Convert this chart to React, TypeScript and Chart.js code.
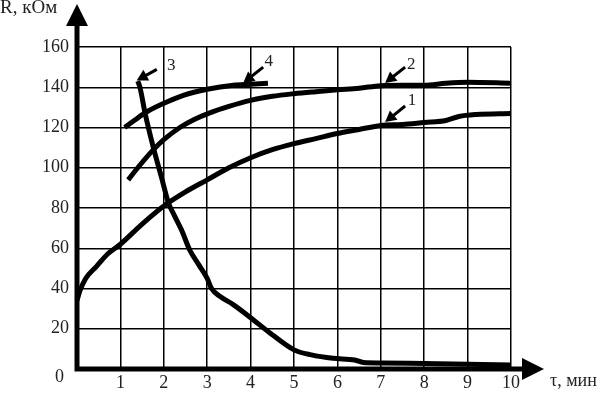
import React, { useEffect, useRef } from "react";
import { Chart, registerables } from "chart.js";

Chart.register(...registerables);

// Curve 1
const c1X = [0.0, 0.07, 0.2, 0.45, 0.7, 1.0, 1.5, 2.0, 2.5, 3.0, 3.5, 4.0, 4.5, 5.0, 5.5, 6.0, 6.5, 7.0, 7.5, 8.0, 8.5, 8.8, 9.2, 10.0];
const c1Y = [34, 39, 45, 51, 57, 62, 72, 81, 88, 94, 100, 105, 109, 112, 114.5, 117, 119, 121, 121.5, 122.5, 123.5, 125.5, 126.5, 127];
// Curve 2
const c2X = [1.18, 1.4, 1.76, 2.0, 2.37, 2.7, 3.06, 3.5, 4.0, 4.5, 5.0, 5.5, 6.0, 6.5, 7.0, 7.5, 8.0, 8.5, 9.0, 10.0];
const c2Y = [94, 100, 109, 114, 120, 124, 127.3, 130.5, 133.5, 135.5, 136.8, 137.8, 138.7, 139.5, 140.8, 141, 141, 142, 142.5, 142];
// Curve 3
const c3X = [1.4, 1.45, 1.57, 1.76, 1.95, 2.1, 2.25, 2.41, 2.6, 2.8, 3.0, 3.1, 3.3, 3.6, 4.06, 4.5, 5.0, 5.4, 5.9, 6.4, 6.6, 7.0, 8.0, 9.0, 10.0];
const c3Y = [143, 140, 127, 110, 95, 83, 76, 69, 59, 52, 45, 40, 36, 32, 24.5, 17, 9.5, 7, 5.3, 4.5, 3.2, 3, 2.7, 2.4, 2];
// Curve 4
const c4X = [1.1, 1.35, 1.6, 2.07, 2.45, 3.0, 3.6, 4.0, 4.4];
const c4Y = [120, 124, 127.7, 132.7, 136, 139, 141, 141.5, 142];

const xTicks = [0, 1, 2, 3, 4, 5, 6, 7, 8, 9, 10];
const yTicks = [0, 20, 40, 60, 80, 100, 120, 140, 160];

// Curve labels: [label, tailX, tailY, tipX, tipY, textX, textY]
const curveLabels: [string, number, number, number, number, number, number][] = [
  ["3", 1.84, 148.9, 1.375, 143.4, 2.17, 151],
  ["4", 4.29, 150, 3.83, 142.1, 4.42, 153],
  ["2", 7.56, 150, 7.1, 142.1, 7.7, 151.5],
  ["1", 7.56, 130.7, 7.1, 122.7, 7.72, 133.5],
];

const yTitle = "R, кОм";
const xTitle = "τ, мин";

const FONT = "'Liberation Serif', 'DejaVu Serif', serif";

function pts(xs: number[], ys: number[]) {
  return xs.map((x, i) => ({ x, y: ys[i] }));
}

function arrowHead(ctx: CanvasRenderingContext2D, fx: number, fy: number, tx: number, ty: number, len: number, half: number) {
  const a = Math.atan2(ty - fy, tx - fx);
  ctx.beginPath();
  ctx.moveTo(tx, ty);
  ctx.lineTo(tx - len * Math.cos(a) + half * Math.sin(a), ty - len * Math.sin(a) - half * Math.cos(a));
  ctx.lineTo(tx - len * Math.cos(a) - half * Math.sin(a), ty - len * Math.sin(a) + half * Math.cos(a));
  ctx.closePath();
  ctx.fill();
}

const decorPlugin = {
  id: "decor",
  afterDatasetsDraw(chart: any) {
    const ctx: CanvasRenderingContext2D = chart.ctx;
    const xs = chart.scales.x;
    const ys = chart.scales.y;
    const x0 = xs.getPixelForValue(0);
    const y0 = ys.getPixelForValue(0);
    ctx.save();
    ctx.fillStyle = "#000";
    ctx.strokeStyle = "#000";
    // axes
    ctx.lineWidth = 5;
    ctx.beginPath();
    ctx.moveTo(x0, y0);
    ctx.lineTo(x0, 24);
    ctx.moveTo(x0 - 2.5, y0);
    ctx.lineTo(xs.right + 12, y0);
    ctx.stroke();
    // arrow heads
    ctx.beginPath();
    ctx.moveTo(x0, 4);
    ctx.lineTo(x0 - 11, 26);
    ctx.lineTo(x0 + 11, 26);
    ctx.closePath();
    ctx.fill();
    ctx.beginPath();
    ctx.moveTo(xs.right + 33, y0);
    ctx.lineTo(xs.right + 11, y0 - 11);
    ctx.lineTo(xs.right + 11, y0 + 11);
    ctx.closePath();
    ctx.fill();

    // curve label arrows
    ctx.lineWidth = 3;
    ctx.lineCap = "butt";
    for (const [lab, tx, ty, hx, hy, lx, ly] of curveLabels) {
      const fx = xs.getPixelForValue(tx);
      const fy = ys.getPixelForValue(ty);
      const px = xs.getPixelForValue(hx);
      const py = ys.getPixelForValue(hy);
      const a = Math.atan2(py - fy, px - fx);
      ctx.beginPath();
      ctx.moveTo(fx, fy);
      ctx.lineTo(px - 8 * Math.cos(a), py - 8 * Math.sin(a));
      ctx.stroke();
      arrowHead(ctx, fx, fy, px, py, 11, 6);
      ctx.fillStyle = "#222";
      ctx.font = `17px ${FONT}`;
      ctx.textAlign = "center";
      ctx.textBaseline = "middle";
      ctx.fillText(lab, xs.getPixelForValue(lx), ys.getPixelForValue(ly));
      ctx.fillStyle = "#000";
    }

    // texts
    ctx.fillStyle = "#222";
    ctx.font = `18px ${FONT}`;
    ctx.textAlign = "right";
    ctx.textBaseline = "middle";
    ctx.fillText("0", x0 - 13, y0 + 8);
    ctx.textAlign = "left";
    ctx.textBaseline = "alphabetic";
    ctx.font = `19px ${FONT}`;
    ctx.fillText(yTitle, 0, 13);
    ctx.font = `18px ${FONT}`;
    ctx.fillText(xTitle, xs.right + 39, y0 + 17);
    ctx.restore();
  },
};

export default function App() {
  const ref = useRef<HTMLCanvasElement>(null);
  useEffect(() => {
    document.body.style.margin = "0";
    const mk = (xs: number[], ys: number[]) => ({
      data: pts(xs, ys),
      borderColor: "#000",
      borderWidth: 5,
      pointRadius: 0,
      cubicInterpolationMode: "monotone" as const,
      fill: false,
      borderCapStyle: "butt" as const,
      borderJoinStyle: "round" as const,
    });
    const chart = new Chart(ref.current!, {
      type: "line",
      data: {
        datasets: [mk(c1X, c1Y), mk(c2X, c2Y), mk(c3X, c3Y), mk(c4X, c4Y)],
      },
      options: {
        responsive: false,
        animation: false,
        layout: { padding: { left: 0, top: 47, right: 94, bottom: 0 } },
        plugins: { legend: { display: false }, tooltip: { enabled: false } },
        scales: {
          x: {
            type: "linear",
            min: 0,
            max: 10,
            afterBuildTicks: (s: any) => {
              s.ticks = xTicks.map((v) => ({ value: v }));
            },
            afterFit: (s: any) => {
              s.height = 26;
            },
            grid: { color: "#000", lineWidth: 1.5, drawTicks: false },
            border: { display: false },
            ticks: {
              color: "#222",
              font: { family: FONT, size: 18 },
              padding: 3,
              maxRotation: 0,
              callback: (v: any) => (v === 0 ? "" : String(v)),
            },
          },
          y: {
            type: "linear",
            min: 0,
            max: 160,
            afterBuildTicks: (s: any) => {
              s.ticks = yTicks.map((v) => ({ value: v }));
            },
            afterFit: (s: any) => {
              s.width = 77;
            },
            grid: { color: "#000", lineWidth: 1.5, drawTicks: false },
            border: { display: false },
            ticks: {
              color: "#222",
              font: { family: FONT, size: 18 },
              padding: 8,
              callback: (v: any) => (v === 0 ? "" : String(v)),
            },
          },
        },
      },
      plugins: [decorPlugin],
    });
    return () => chart.destroy();
  }, []);
  return (
    <div style={{ width: 605, height: 395 }}>
      <canvas ref={ref} width={605} height={395} style={{ display: "block" }} />
    </div>
  );
}
